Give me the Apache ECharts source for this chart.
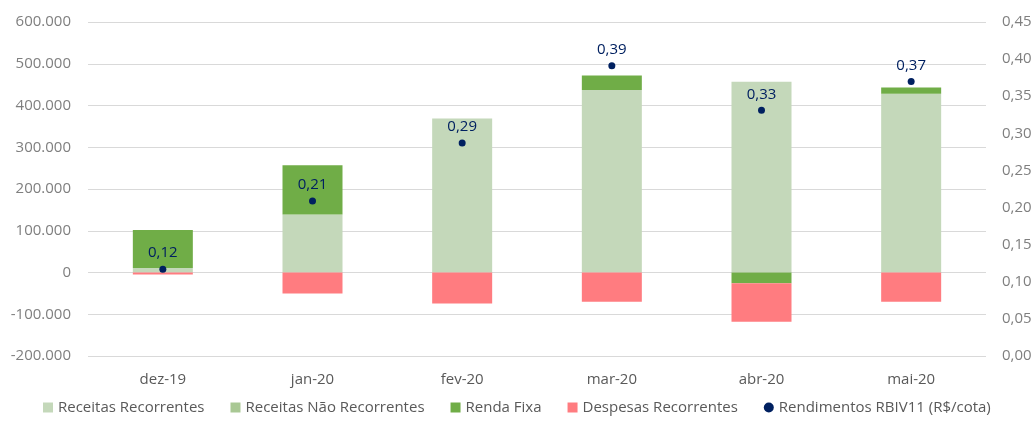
<!DOCTYPE html>
<html>
<head>
<meta charset="utf-8">
<script src="https://cdn.jsdelivr.net/npm/echarts@6/dist/echarts.min.js"></script>
<style>
  html, body { margin: 0; padding: 0; background: #fff; }
  #chart { width: 1035px; height: 421px; }
</style>
</head>
<body>
<div id="chart"></div>
<script>
var months = ['dez-19', 'jan-20', 'fev-20', 'mar-20', 'abr-20', 'mai-20'];
var receitasRecorrentes = [11000, 139000, 369000, 437000, 457000, 428000];
var receitasNaoRecorrentes = [0, 0, 0, 0, 0, 0];
var rendaFixa = [91000, 118000, 0, 35000, -26000, 15000];
var despesasRecorrentes = [-5000, -50000, -74000, -70000, -92000, -70000];
var rendimentos = [0.117, 0.209, 0.287, 0.391, 0.331, 0.370];

var font = '"Open Sans", sans-serif';

function fmtThousands (v) {
    var s = String(Math.abs(v)).replace(/\B(?=(\d{3})+(?!\d))/g, '.');
    return (v < 0 ? '-' : '') + s;
}

function barSeries (name, data, color) {
    return {
        name: name,
        type: 'bar',
        stack: 'total',
        barWidth: 60,
        itemStyle: { color: color },
        data: data
    };
}

var opts = {
    backgroundColor: '#fff',
    animation: false,
    textStyle: { fontFamily: font },
    grid: { left: 88, right: 49, top: 22, bottom: 65 },
    legend: {
        bottom: 1,
        left: 38,
        itemWidth: 10,
        itemHeight: 10,
        itemGap: 26,
        textStyle: { color: '#595959', fontSize: 15, fontFamily: font },
        data: [
            { name: 'Receitas Recorrentes', icon: 'rect' },
            { name: 'Receitas Não Recorrentes', icon: 'rect' },
            { name: 'Renda Fixa', icon: 'rect' },
            { name: 'Despesas Recorrentes', icon: 'rect' },
            { name: 'Rendimentos RBIV11 (R$/cota)', icon: 'circle', itemStyle: { color: '#002060' } }
        ]
    },
    xAxis: {
        type: 'category',
        data: months,
        axisLine: { show: false },
        axisTick: { show: false },
        axisLabel: { color: '#595959', fontSize: 15, margin: 16 }
    },
    yAxis: [
        {
            type: 'value',
            min: -200000,
            max: 600000,
            interval: 100000,
            axisLine: { show: false },
            axisTick: { show: false },
            splitLine: { lineStyle: { color: '#d9d9d9', width: 1 } },
            axisLabel: {
                color: '#7f7f7f',
                fontSize: 15,
                margin: 17,
                formatter: fmtThousands
            }
        },
        {
            type: 'value',
            min: 0,
            max: 0.45,
            interval: 0.05,
            axisLine: { show: false },
            axisTick: { show: false },
            splitLine: { show: false },
            axisLabel: {
                color: '#7f7f7f',
                fontSize: 15,
                margin: 16,
                formatter: function (v) { return v.toFixed(2).replace('.', ','); }
            }
        }
    ],
    series: [
        barSeries('Receitas Recorrentes', receitasRecorrentes, '#c4d8ba'),
        barSeries('Receitas Não Recorrentes', receitasNaoRecorrentes, '#a9c894'),
        barSeries('Renda Fixa', rendaFixa, '#70ad47'),
        barSeries('Despesas Recorrentes', despesasRecorrentes, '#ff7c80'),
        {
            name: 'Rendimentos RBIV11 (R$/cota)',
            type: 'scatter',
            yAxisIndex: 1,
            symbolSize: 7,
            itemStyle: { color: '#002060', opacity: 1 },
            label: {
                show: true,
                position: 'top',
                distance: 5,
                color: '#002060',
                fontSize: 15,
                formatter: function (p) { return p.value.toFixed(2).replace('.', ','); }
            },
            data: rendimentos
        }
    ]
};

echarts.init(document.getElementById('chart')).setOption(opts);
</script>
</body>
</html>
